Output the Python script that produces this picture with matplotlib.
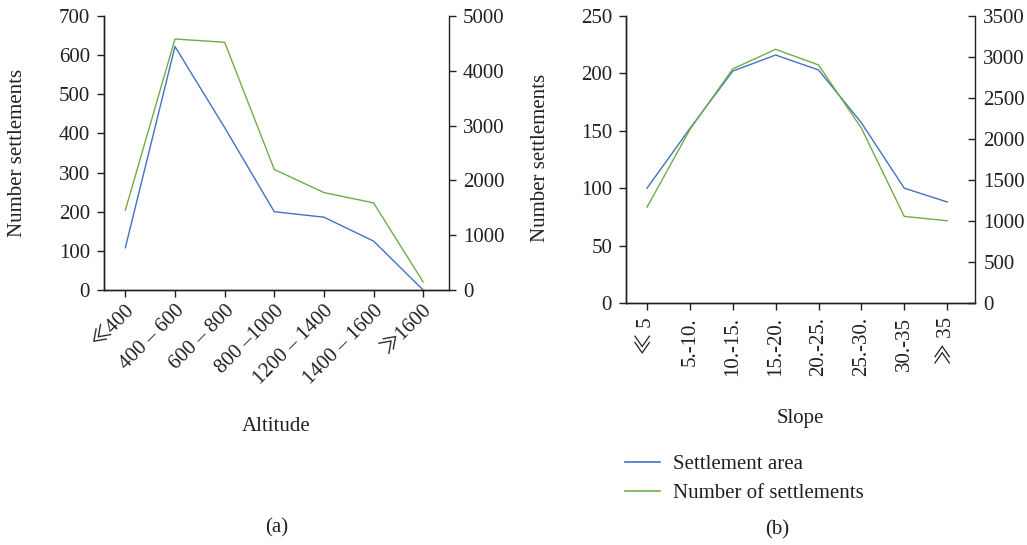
import matplotlib
matplotlib.use("Agg")
import matplotlib.pyplot as plt
from matplotlib.lines import Line2D

plt.rcParams['font.family'] = ['Liberation Serif', 'Noto Sans CJK JP', 'DejaVu Sans']

# ---- data ----
alt_labels = ["≪400", "400 – 600", "600 – 800", "800 –1000", "1200 – 1400", "1400 – 1600", "≫1600"]
alt_area = [108, 622, 415, 200, 186, 125, 0]
alt_count = [1457, 4580, 4520, 2200, 1778, 1590, 146]

slope_labels = ["≪ 5", "5.-10.", "10.-15.", "15.-20.", "20.-25.", "25.-30.", "30.-35", "≫ 35"]
slope_area = [100, 152, 202, 216, 203, 157, 100, 88]
slope_count = [1169, 2115, 2855, 3094, 2903, 2132, 1056, 1003]

series_names = ["Settlement area", "Number of settlements"]

BLUE = "#4472C4"
GREEN = "#70AD47"
TXT = "#231F20"
FS = 15

W, H = 1027, 545
fig = plt.figure(figsize=(W / 100, H / 100), dpi=100)


def px_axes(l, t, r, b):
    return fig.add_axes([l / W, 1 - b / H, (r - l) / W, (b - t) / H])


def style(ax):
    for s in ax.spines.values():
        s.set_color(TXT)
        s.set_linewidth(1.0)
    ax.spines['top'].set_visible(False)
    ax.tick_params(colors=TXT, labelcolor=TXT, labelsize=FS, length=5, width=1.0, direction='out', pad=5)


# ---- left panel ----
ax1 = px_axes(104, 16, 449, 290)
ax1b = ax1.twinx()
x1 = list(range(len(alt_labels)))
ax1.plot(x1, alt_area, color=BLUE, lw=1.0)
ax1b.plot(x1, alt_count, color=GREEN, lw=1.0)
ax1.set_xlim(-0.43, 6.52)
ax1.set_ylim(0, 700)
ax1b.set_ylim(0, 5000)
ax1.set_yticks(range(0, 701, 100))
ax1b.set_yticks(range(0, 5001, 1000))
ax1.set_xticks(x1)
ax1.set_xticklabels(alt_labels, rotation=45, ha='right', va='top', rotation_mode='anchor')
for a in (ax1, ax1b):
    style(a)
ax1.spines['right'].set_visible(False)
ax1.tick_params(axis='x', pad=3)
ax1.set_ylabel("Number settlements", fontsize=FS, color=TXT)
ax1.yaxis.set_label_coords(-0.223, 0.5)
ax1.set_xlabel("Altitude", fontsize=FS, color=TXT)
ax1.xaxis.set_label_coords(0.5, -0.465)

# ---- right panel ----
ax2 = px_axes(626, 16, 975, 303)
ax2b = ax2.twinx()
x2 = list(range(len(slope_labels)))
ax2.plot(x2, slope_area, color=BLUE, lw=1.0)
ax2b.plot(x2, slope_count, color=GREEN, lw=1.0)
ax2.set_xlim(-0.49, 7.65)
ax2.set_ylim(0, 250)
ax2b.set_ylim(0, 3500)
ax2.set_yticks(range(0, 251, 50))
ax2b.set_yticks(range(0, 3501, 500))
ax2.set_xticks(x2)
ax2.set_xticklabels(slope_labels, rotation=90, ha='center', va='top')
for a in (ax2, ax2b):
    style(a)
ax2.spines['right'].set_visible(False)
ax2b.tick_params(axis='y', direction='in', pad=6)
ax2.tick_params(axis='x', pad=5)
ax2.set_ylabel("Number settlements", fontsize=FS, color=TXT)
ax2.yaxis.set_label_coords(-0.218, 0.505)
ax2.set_xlabel("Slope", fontsize=FS, color=TXT)
ax2.xaxis.set_label_coords(0.5, -0.37)

# ---- legend ----
handles = [Line2D([], [], color=BLUE, lw=1.2), Line2D([], [], color=GREEN, lw=1.2)]
fig.legend(handles, series_names, loc='center left', bbox_to_anchor=(625 / W, 1 - 479 / H),
           frameon=False, fontsize=FS, handlelength=1.7, handletextpad=0.6,
           labelspacing=0.45, borderpad=0, borderaxespad=0, labelcolor=TXT)

fig.text(277 / W, 1 - 528 / H, "(a)", ha='center', va='center', fontsize=FS, color=TXT)
fig.text(777 / W, 1 - 530 / H, "(b)", ha='center', va='center', fontsize=FS, color=TXT)

fig.savefig("out.png", dpi=100)
